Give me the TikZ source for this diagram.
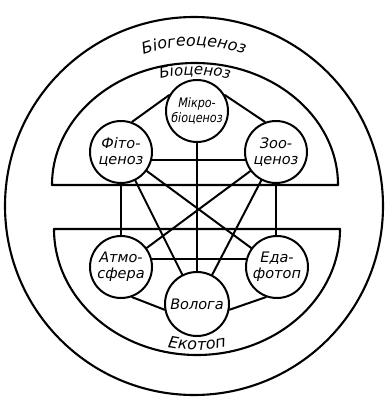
\documentclass[tikz,border=0pt]{standalone}
\usepackage{fontspec}
\setmainfont{DejaVu Sans}
\newfontfamily\narrowfont[FakeStretch=0.86]{DejaVu Sans}
\usetikzlibrary{decorations.text}

\begin{document}
\begin{tikzpicture}[x=1pt,y=1pt,line cap=round,line join=round,
  ring/.style={line width=2.1pt},
  link/.style={line width=2pt},
  biotop/.style={circle,draw,line width=2pt,minimum size=62pt,inner sep=0pt,align=center,
    font=\fontsize{14.5}{16}\selectfont\itshape}]
  \useasboundingbox (0,0) rectangle (389,-399);
  % rings
  \draw[ring] (194,-206) circle[radius=189];
  \draw[ring] (52,-185) arc[start angle=180,end angle=0,x radius=143,y radius=122] -- cycle;
  \draw[ring] (54,-229) arc[start angle=180,end angle=360,x radius=143,y radius=126] -- cycle;
  \path[decorate,decoration={text along path,text align=center,
    text={|\fontsize{16}{16}\selectfont\itshape|Біогеоценоз}}]
    (55.4,-126) arc[start angle=150,end angle=30,radius=160];
  \path[decorate,decoration={text along path,text align=center,
    text={|\fontsize{15}{15}\selectfont\itshape|Біоценоз}}]
    (129.5,-89.7) arc[start angle=120,end angle=60,x radius=131,y radius=110];
  \path[decorate,decoration={text along path,text align=center,
    text={|\fontsize{16}{16}\selectfont\itshape|Екотоп}}]
    (130.5,-333.8) arc[start angle=240,end angle=300,x radius=133,y radius=121];
  % components
  \node[biotop,font=\fontsize{13}{15}\selectfont\narrowfont\itshape] (mikro) at (197,-111) {Мікро-\\біоценоз};
  \node[biotop] (fito) at (121,-152) {Фіто-\\ценоз};
  \node[biotop] (zoo) at (276,-152) {Зоо-\\ценоз};
  \node[biotop] (atmo) at (121,-267) {Атмо-\\сфера};
  \node[biotop] (edafo) at (277,-267) {Еда-\\фотоп};
  \node[biotop,minimum size=64pt] (volo) at (197,-304) {Волога};
  % links
  \draw[link] (mikro)--(volo) (fito)--(atmo) (zoo)--(zoo|-edafo.north);
  \draw[link] (fito.-15)--(zoo.195) (atmo.15)--(edafo.165);
  \draw[link] (fito)--(volo) (fito)--(edafo) (zoo)--(atmo) (zoo)--(volo);
  \draw[link] (fito.70)--(mikro.150) (mikro.30)--(zoo.110);
  \draw[link] (atmo.-70)--(volo.190) (volo.-10)--(edafo.-110);
\end{tikzpicture}
\end{document}
